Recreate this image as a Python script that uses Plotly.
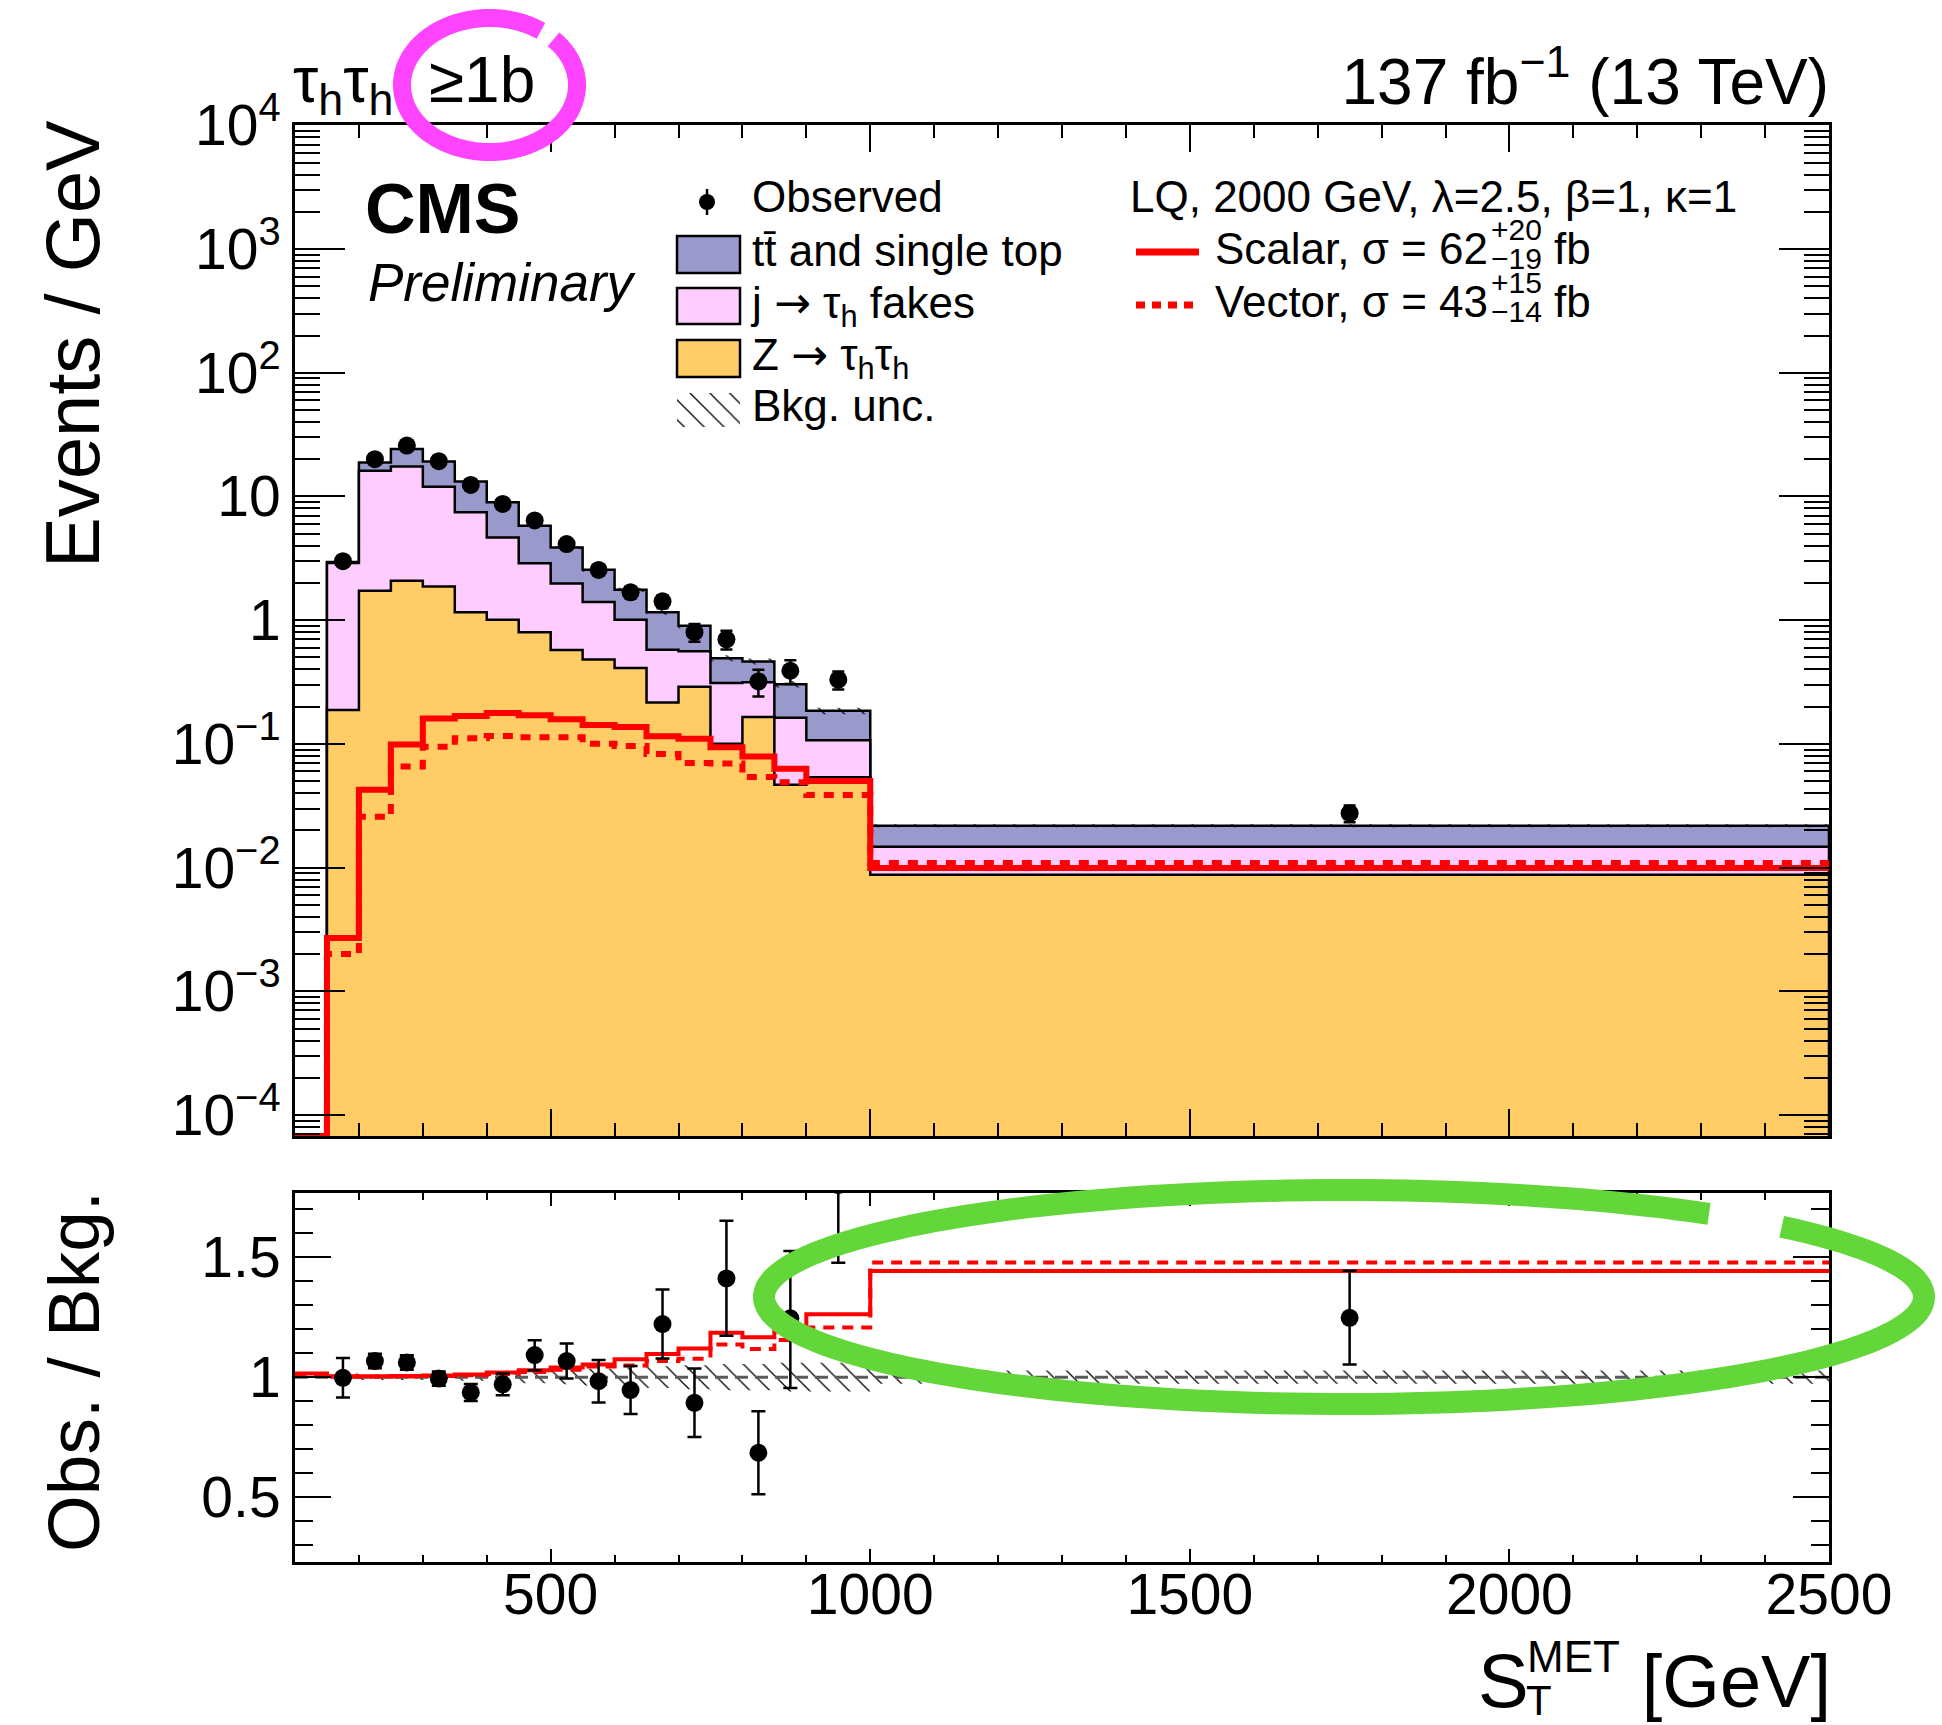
import math
import plotly.graph_objects as go

FIG_W, FIG_H = 1942, 1725
FONT = "Liberation Sans, Arial, Helvetica, sans-serif"

# ---- binning in S_T^MET (GeV) ----
bin_edges = [100, 150, 200, 250, 300, 350, 400, 450, 500, 550, 600,
             650, 700, 750, 800, 850, 900, 1000, 2500]

# ---- expected backgrounds, events / GeV (first bin is empty) ----
bkg_ztautau = [0, 0.188, 1.73, 2.08, 1.87, 1.16, 1.01, 0.80, 0.575, 0.482,
               0.41, 0.216, 0.289, 0.100, 0.165, 0.0467, 0.0536, 0.00875]
bkg_jet_fakes = [0, 2.71, 14.4, 15.4, 10.1, 6.31, 3.65, 2.09, 1.40, 0.92,
                 0.60, 0.361, 0.273, 0.21, 0.15, 0.116, 0.0534, 0.00595]
bkg_top = [0, 0.05, 2.7, 6.7, 7.2, 5.73, 4.34, 2.91, 1.89, 1.15,
           0.75, 0.583, 0.338, 0.183, 0.149, 0.141, 0.078, 0.0071]
bkg_rel_unc = [0, 0.015, 0.012, 0.012, 0.012, 0.015, 0.02, 0.025, 0.03, 0.035,
               0.04, 0.045, 0.05, 0.055, 0.055, 0.06, 0.06, 0.028]

# ---- observed data, events / GeV (bins from 150 GeV) ----
obs_events = [3.0, 20.0, 25.8, 19.3, 12.4, 8.7, 6.4, 4.12, 2.55, 1.68,
              1.42, 0.80, 0.70, 0.32, 0.39, 0.33, 0.0275]
obs_err = [0.25, 0.6, 0.7, 0.6, 0.5, 0.4, 0.37, 0.28, 0.23, 0.18,
           0.17, 0.13, 0.12, 0.078, 0.085, 0.055, 0.0043]

# ---- LQ signal (2000 GeV), events / GeV ----
lq_scalar = [0, 0.0027, 0.0425, 0.099, 0.160, 0.168, 0.178, 0.170, 0.158, 0.142,
             0.137, 0.115, 0.110, 0.094, 0.079, 0.063, 0.050, 0.0099]
lq_vector = [0, 0.0020, 0.0257, 0.0655, 0.095, 0.111, 0.116, 0.113, 0.113, 0.100,
             0.096, 0.083, 0.070, 0.0695, 0.054, 0.049, 0.0386, 0.0109]

# ---- ratio panel ----
ratio_obs = [0.997, 1.067, 1.061, 0.994, 0.936, 0.970, 1.092, 1.067, 0.983, 0.946,
             1.221, 0.893, 1.411, 0.685, 1.245, 1.80, 1.247]
ratio_obs_err_up = [0.083, 0.03, 0.03, 0.03, 0.035, 0.045, 0.062, 0.073, 0.088, 0.10,
                    0.144, 0.143, 0.24, 0.173, 0.28, 0.33, 0.196]
ratio_obs_err_dn = [0.082, 0.03, 0.03, 0.03, 0.035, 0.045, 0.063, 0.073, 0.089, 0.10,
                    0.143, 0.142, 0.239, 0.173, 0.29, 0.324, 0.194]
ratio_scalar = [1.015, 1.004, 1.004, 1.005, 1.007, 1.011, 1.019, 1.029, 1.040, 1.053,
                1.074, 1.096, 1.119, 1.185, 1.166, 1.19, 1.262, 1.442]
ratio_vector = [1.012, 1.002, 1.002, 1.003, 1.005, 1.008, 1.013, 1.021, 1.031, 1.044,
                1.048, 1.067, 1.077, 1.136, 1.117, 1.155, 1.207, 1.478]

# ---- tick labels ----
x_tickvals = [500, 1000, 1500, 2000, 2500]
x_ticktext = ["500", "1000", "1500", "2000", "2500"]
main_y_tickvals = [1e-4, 1e-3, 1e-2, 1e-1, 1, 10, 1e2, 1e3, 1e4]
main_y_ticktext = ["10<sup>\u22124</sup>", "10<sup>\u22123</sup>", "10<sup>\u22122</sup>",
                   "10<sup>\u22121</sup>", "1", "10", "10<sup>2</sup>", "10<sup>3</sup>",
                   "10<sup>4</sup>"]
ratio_y_tickvals = [0.5, 1.0, 1.5]
ratio_y_ticktext = ["0.5", "1", "1.5"]

# ---- styling ----
TOP_COLOR = "#9999cc"
FAKE_COLOR = "#ffccff"
Z_COLOR = "#ffcc66"
RED = "#ff0000"
ARROW = '<span style="font-family:DejaVu Sans">\u2192</span>'

X_RANGE = [100, 2500]
Y_LOG_RANGE = [-4.17, 4.003]
RATIO_RANGE = [0.23, 1.767]
FILL_FLOOR = 1e-9
LINE_FLOOR = 10 ** Y_LOG_RANGE[0]

# frame positions in pixels
PX_L, PX_R = 295, 1829
MAIN_T, MAIN_B = 125, 1136
RATIO_T, RATIO_B = 1193, 1562

x_dom = [PX_L / FIG_W, PX_R / FIG_W]
main_dom = [1 - MAIN_B / FIG_H, 1 - MAIN_T / FIG_H]
ratio_dom = [1 - RATIO_B / FIG_H, 1 - RATIO_T / FIG_H]


def step_fill(vals):
    ys = [v if v > 0 else FILL_FLOOR for v in vals]
    xs = [bin_edges[0]] + bin_edges[:-1] + [bin_edges[-1]]
    return xs, [FILL_FLOOR] + ys + [FILL_FLOOR]


def step_line(vals, floor):
    ys = [v if v > 0 else floor for v in vals]
    return list(bin_edges), ys + [ys[-1]]


def band(centres, rel):
    bx, by = [], []
    for i, (c, u) in enumerate(zip(centres, rel)):
        if c <= 0 or u <= 0:
            continue
        lo, hi = c * (1 - u), c * (1 + u)
        x0, x1 = bin_edges[i], bin_edges[i + 1]
        bx += [x0, x1, x1, x0, x0, None]
        by += [lo, lo, hi, hi, lo, None]
    return bx, by


HATCH = dict(shape="\\", size=14, solidity=0.09, fgcolor="black",
             bgcolor="rgba(0,0,0,0)", fillmode="replace")

fig = go.Figure()

# ---------------- main panel ----------------
stack_z = list(bkg_ztautau)
stack_fakes = [a + b for a, b in zip(stack_z, bkg_jet_fakes)]
stack_total = [a + b for a, b in zip(stack_fakes, bkg_top)]

for vals, col in [(stack_total, TOP_COLOR), (stack_fakes, FAKE_COLOR), (stack_z, Z_COLOR)]:
    xs, ys = step_fill(vals)
    fig.add_trace(go.Scatter(x=xs, y=ys, mode="lines",
                             line=dict(color="black", width=2.5, shape="hv"),
                             fill="toself", fillcolor=col,
                             hoverinfo="skip", xaxis="x", yaxis="y"))

bx, by = band(stack_total, bkg_rel_unc)
fig.add_trace(go.Scatter(x=bx, y=by, mode="lines", line=dict(width=0),
                         fill="toself", fillcolor="rgba(0,0,0,0)", fillpattern=HATCH,
                         hoverinfo="skip", xaxis="x", yaxis="y"))

for vals, dash in [(lq_vector, "10px,9px"), (lq_scalar, "solid")]:
    xs, ys = step_line(vals, LINE_FLOOR)
    fig.add_trace(go.Scatter(x=xs, y=ys, mode="lines",
                             line=dict(color=RED, width=6, shape="hv", dash=dash),
                             hoverinfo="skip", xaxis="x", yaxis="y"))

obs_centres = [(a + b) / 2 for a, b in zip(bin_edges[1:-1], bin_edges[2:])]
fig.add_trace(go.Scatter(x=obs_centres, y=obs_events, mode="markers",
                         marker=dict(color="black", size=18),
                         error_y=dict(type="data", array=obs_err, color="black",
                                      thickness=2.5, width=6),
                         hoverinfo="skip", xaxis="x", yaxis="y"))

# ---------------- ratio panel ----------------
rbx, rby = band([0] + [1.0] * (len(bin_edges) - 2), bkg_rel_unc)
fig.add_trace(go.Scatter(x=rbx, y=rby, mode="lines", line=dict(width=0),
                         fill="toself", fillcolor="rgba(0,0,0,0)", fillpattern=HATCH,
                         hoverinfo="skip", xaxis="x2", yaxis="y2"))

fig.add_trace(go.Scatter(x=X_RANGE, y=[1, 1], mode="lines",
                         line=dict(color="#5a5a5a", width=3, dash="13px,7px"),
                         hoverinfo="skip", xaxis="x2", yaxis="y2"))

for vals, dash in [(ratio_vector, "11px,8px"), (ratio_scalar, "solid")]:
    xs, ys = step_line(vals, 0)
    fig.add_trace(go.Scatter(x=xs, y=ys, mode="lines",
                             line=dict(color=RED, width=4, shape="hv", dash=dash),
                             hoverinfo="skip", xaxis="x2", yaxis="y2"))

fig.add_trace(go.Scatter(x=obs_centres, y=ratio_obs, mode="markers",
                         marker=dict(color="black", size=18),
                         error_y=dict(type="data", array=ratio_obs_err_up,
                                      arrayminus=ratio_obs_err_dn, color="black",
                                      thickness=2.5, width=7),
                         hoverinfo="skip", xaxis="x2", yaxis="y2"))


# ---------------- overlay (pixel coordinates) ----------------
def text(x, baseline, s, size, anchor="left", style=None):
    body = s
    if style == "b":
        body = "<b>" + s + "</b>"
    elif style == "i":
        body = "<i>" + s + "</i>"
    pos = "middle right" if anchor == "left" else "middle left"
    fig.add_trace(go.Scatter(x=[x], y=[baseline - 0.25 * size], mode="text",
                             text=[body], textposition=pos,
                             textfont=dict(family=FONT, size=size, color="black"),
                             hoverinfo="skip", xaxis="x3", yaxis="y3"))


text(293, 102, "\u03c4<sub>h</sub>\u03c4<sub>h</sub>\u00a0\u00a0\u22651b", 64)
text(PX_R, 104, "137 fb<sup>\u22121</sup> (13 TeV)", 64, anchor="right")
text(365, 233, "CMS", 70, style="b")
text(368, 301, "Preliminary", 53, style="i")

# legend, left column
LEG_FS = 44
text(752, 212, "Observed", LEG_FS)
text(752, 266, "tt\u0304 and single top", LEG_FS)
text(752, 318, "j " + ARROW + " \u03c4<sub>h</sub> fakes", LEG_FS)
text(752, 370, "Z " + ARROW + " \u03c4<sub>h</sub>\u03c4<sub>h</sub>", LEG_FS)
text(752, 421, "Bkg. unc.", LEG_FS)

fig.add_trace(go.Scatter(x=[707], y=[202], mode="markers",
                         marker=dict(color="black", size=16),
                         error_y=dict(type="constant", value=13, color="black",
                                      thickness=2.5, width=0),
                         hoverinfo="skip", xaxis="x3", yaxis="y3"))

legend_boxes = [(236, 273, TOP_COLOR), (288, 324, FAKE_COLOR), (340, 377, Z_COLOR)]
shapes = []
for y0, y1, col in legend_boxes:
    shapes.append(dict(type="rect", xref="x3", yref="y3", x0=677, x1=740, y0=y0, y1=y1,
                       fillcolor=col, line=dict(color="black", width=2.5), layer="above"))

fig.add_trace(go.Scatter(x=[677, 740, 740, 677, 677], y=[393, 393, 427, 427, 393],
                         mode="lines", line=dict(width=0), fill="toself",
                         fillcolor="rgba(0,0,0,0)", fillpattern=HATCH,
                         hoverinfo="skip", xaxis="x3", yaxis="y3"))

# legend, right column
text(1130, 212, "LQ, 2000 GeV, \u03bb=2.5, \u03b2=1, \u03ba=1", LEG_FS)
for base, label, up, dn, dash in [(264, "Scalar, \u03c3 = 62", "+20", "\u221219", "solid"),
                                  (317, "Vector, \u03c3 = 43", "+15", "\u221214", "9px,7px")]:
    fig.add_trace(go.Scatter(x=[1136, 1199], y=[base - 12, base - 12], mode="lines",
                             line=dict(color=RED, width=7, dash=dash),
                             hoverinfo="skip", xaxis="x3", yaxis="y3"))
    text(1215, base, label, LEG_FS)
    text(1491, base - 24, up, 30)
    text(1491, base + 5, dn, 30)
    text(1554, base, "fb", LEG_FS)

# x-axis title
text(1478, 1707, "S", 76)
text(1527, 1672, "MET", 44)
text(1526, 1715, "T", 42)
text(1831, 1707, "[GeV]", 74, anchor="right")

annotations = [
    dict(x=72, y=118, xref="x3", yref="y3", text="Events / GeV", textangle=-90,
         xanchor="center", yanchor="top", showarrow=False,
         font=dict(family=FONT, size=76, color="black")),
    dict(x=73, y=1372, xref="x3", yref="y3", text="Obs. / Bkg.", textangle=-90,
         xanchor="center", yanchor="middle", showarrow=False,
         font=dict(family=FONT, size=73, color="black")),
]


# hand-drawn style highlight rings
def ring(cx, cy, rx, ry, a0, a1, n=180):
    pts = []
    for k in range(n + 1):
        t = math.radians(a0 + (a1 - a0) * k / n)
        pts.append((cx + rx * math.cos(t), cy + ry * math.sin(t)))
    return "M" + " L".join(f"{px:.1f},{py:.1f}" for px, py in pts)


shapes.append(dict(type="path", xref="x3", yref="y3", layer="above",
                   path=ring(489.5, 85, 87.5, 67, -43, 306),
                   line=dict(color="#ff44ff", width=18)))
shapes.append(dict(type="path", xref="x3", yref="y3", layer="above",
                   path=ring(1344, 1297, 580, 107, -41, 309),
                   line=dict(color="#63d63a", width=22)))

axis_common = dict(showline=True, linewidth=3, linecolor="black", mirror="allticks",
                   ticks="inside", tickcolor="black", tickwidth=2, showgrid=False,
                   zeroline=False, fixedrange=True, automargin=False,
                   tickfont=dict(family=FONT, size=57, color="black"))

fig.update_layout(
    template="none",
    width=FIG_W, height=FIG_H,
    margin=dict(l=0, r=0, t=0, b=0, pad=0, autoexpand=False),
    paper_bgcolor="white", plot_bgcolor="rgba(0,0,0,0)",
    showlegend=False,
    font=dict(family=FONT, color="black"),
    xaxis=dict(domain=x_dom, range=X_RANGE, anchor="y", showticklabels=False,
               tickmode="array", tickvals=x_tickvals, ticklen=27,
               minor=dict(ticks="inside", ticklen=13, tickwidth=2, tickcolor="black",
                          dtick=100, tick0=0, showgrid=False),
               **axis_common),
    yaxis=dict(domain=main_dom, type="log", range=Y_LOG_RANGE, anchor="x",
               tickmode="array", tickvals=main_y_tickvals, ticktext=main_y_ticktext,
               ticklen=50,
               minor=dict(ticks="inside", ticklen=25, tickwidth=2, tickcolor="black",
                          dtick="D1", showgrid=False),
               **axis_common),
    xaxis2=dict(domain=x_dom, range=X_RANGE, anchor="y2",
                tickmode="array", tickvals=x_tickvals, ticktext=x_ticktext, ticklen=13,
                ticklabelstandoff=-19,
                minor=dict(ticks="inside", ticklen=7, tickwidth=2, tickcolor="black",
                           dtick=100, tick0=0, showgrid=False),
                **axis_common),
    yaxis2=dict(domain=ratio_dom, range=RATIO_RANGE, anchor="x2",
                tickmode="array", tickvals=ratio_y_tickvals, ticktext=ratio_y_ticktext,
                ticklen=36,
                minor=dict(ticks="inside", ticklen=18, tickwidth=2, tickcolor="black",
                           dtick=0.1, tick0=0, showgrid=False),
                **axis_common),
    xaxis3=dict(domain=[0, 1], range=[0, FIG_W], anchor="y3", visible=False,
                fixedrange=True, automargin=False),
    yaxis3=dict(domain=[0, 1], range=[FIG_H, 0], anchor="x3", visible=False,
                fixedrange=True, automargin=False),
    shapes=shapes,
    annotations=annotations,
)

for tr in fig.data:
    tr.showlegend = False

fig.write_html("out.html", config={"displayModeBar": False})
